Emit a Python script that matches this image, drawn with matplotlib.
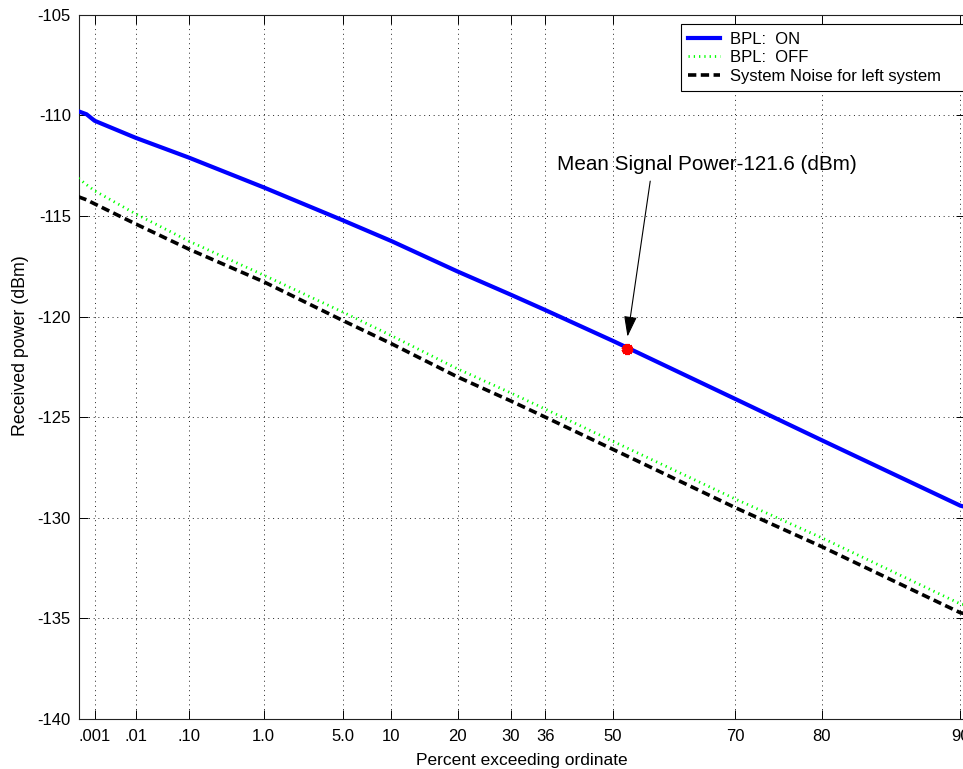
import numpy as np
import matplotlib
matplotlib.use("Agg")
import matplotlib.pyplot as plt

plt.rcParams["font.family"] = ["Liberation Sans", "DejaVu Sans"]
plt.rcParams["axes.unicode_minus"] = False
plt.rcParams["lines.scale_dashes"] = False

# Percent exceeding ordinate (sample points along each curve)
pct = [0.00035, 0.0006, 0.001, 0.01, 0.1, 1.0, 5.0, 10.0, 20.0, 30.0,
       36.8, 50.0, 52.7, 70.0, 80.0, 90.0, 90.21]

# Received power (dBm)
bpl_on = [-109.8, -109.95, -110.27, -111.12, -112.1, -113.58, -115.22, -116.25,
          -117.76, -118.92, -119.68, -121.21, -121.55, -124.1, -126.15, -129.4, -129.45]
bpl_off = [-113.13, -113.45, -113.75, -114.9, -116.25, -117.94, -119.78, -120.95,
           -122.6, -123.8, -124.6, -126.2, -126.54, -129.07, -131.0, -134.28, -134.32]
sys_noise = [-114.05, -114.2, -114.4, -115.4, -116.65, -118.27, -120.2, -121.35,
             -123.0, -124.2, -125.0, -126.6, -126.94, -129.5, -131.44, -134.72, -134.76]

mean_pct = 52.7
mean_power = -121.6

x_ticks = [0.001, 0.01, 0.1, 1.0, 5.0, 10.0, 20.0, 30.0, 100 / np.e, 50.0, 70.0, 80.0, 90.0]
x_labels = [".001", ".01", ".10", "1.0", "5.0", "10", "20", "30", "36", "50", "70", "80", "90"]
y_ticks = [-140, -135, -130, -125, -120, -115, -110, -105]


def gumbel_fwd(p):
    q = np.clip(np.asarray(p, dtype=float) / 100.0, 1e-300, 1 - 1e-12)
    return -np.log(-np.log(q))


def gumbel_inv(g):
    return 100.0 * np.exp(-np.exp(-np.asarray(g, dtype=float)))


W, H = 963, 769
fig = plt.figure(figsize=(W / 100, H / 100), dpi=100)
left, right, top, bottom = 78.5, 964.5, 14.7, 719.0
ax = fig.add_axes([left / W, 1 - bottom / H, (right - left) / W, (bottom - top) / H])
ax.set_xscale("function", functions=(gumbel_fwd, gumbel_inv))

ax.plot(pct, bpl_on, color="#0000ff", lw=3.0, label="BPL:  ON", zorder=3)
ax.plot(pct, bpl_off, color="#00ff00", lw=2.0, linestyle=(0, (0.9, 2.9)),
        label="BPL:  OFF", zorder=3)
ax.plot(pct, sys_noise, color="black", lw=2.6, linestyle=(0, (6.0, 3.2)),
        label="System Noise for left system", zorder=3)

ax.plot([mean_pct], [mean_power], linestyle="none", marker=(6, 2, 0),
        markersize=8, markeredgewidth=3.2, color="red", zorder=4)

ax.set_xlim(0.00035, 90.21)
ax.set_ylim(-140, -105)
ax.set_xticks(x_ticks)
ax.set_xticklabels(x_labels)
ax.set_yticks(y_ticks)
ax.set_yticklabels([str(v) for v in y_ticks])
ax.xaxis.set_minor_locator(matplotlib.ticker.NullLocator())

ax.tick_params(direction="in", length=6.5, width=0.7, top=True, right=True,
               labelsize=12, colors="black")
ax.tick_params(axis="x", pad=7.5)
ax.tick_params(axis="y", pad=5.5)
for sp in ax.spines.values():
    sp.set_linewidth(0.8)
    sp.set_color("#222222")

ax.grid(True, color="black", linestyle=(0, (0.7, 2.7)), linewidth=0.6)
ax.set_axisbelow(True)

ax.set_xlabel("Percent exceeding ordinate", fontsize=12.5, labelpad=6)
ax.set_ylabel("Received power (dBm)", fontsize=12.8)
ax.yaxis.set_label_coords(-0.056, 0.53)

ax.text(39.2, -112.72, "Mean Signal Power-121.6 (dBm)", fontsize=14.9,
        ha="left", va="baseline")
ax.annotate("", xy=(52.71, -121.0), xytext=(56.77, -113.27),
            arrowprops=dict(arrowstyle="-|>,head_length=0.7,head_width=0.22",
                            color="black", lw=0.8, mutation_scale=18,
                            shrinkA=0, shrinkB=0))

leg = ax.legend(loc="upper left",
                bbox_to_anchor=(680.7 / W, 0.5, (990 - 680.7) / W, 0.5 - 24 / H),
                bbox_transform=fig.transFigure, mode="expand", borderaxespad=0,
                fontsize=12, handlelength=1.9, handletextpad=0.6, labelspacing=0.22,
                borderpad=0.45, fancybox=False, framealpha=1)
leg.get_frame().set_edgecolor("black")
leg.get_frame().set_linewidth(0.8)

fig.savefig("out.png", dpi=100)
